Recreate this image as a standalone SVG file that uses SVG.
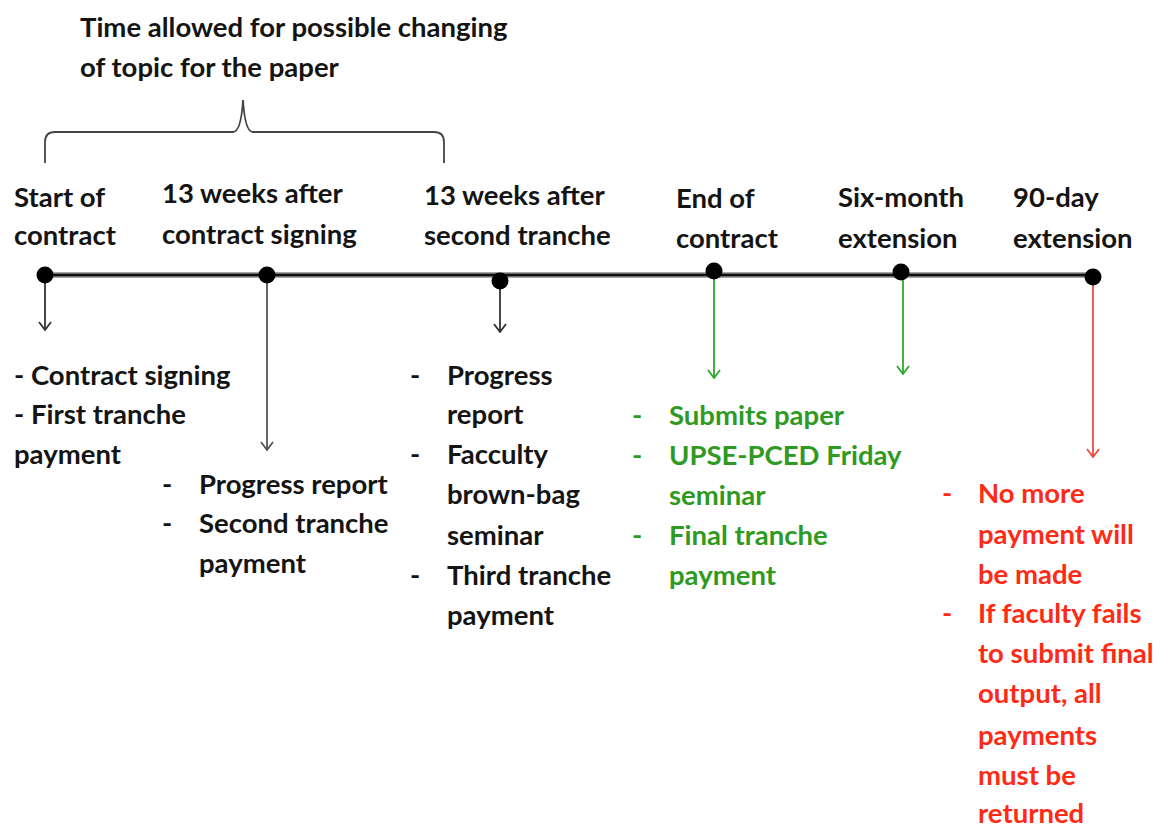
<svg xmlns="http://www.w3.org/2000/svg" width="1160" height="831" viewBox="0 0 1160 831">
  <style>
    text { font-family: Lato, "Liberation Sans", sans-serif; font-weight: bold; font-size: 27.5px; fill: #141414; }
    .g text { fill: #2f9a22; }
    .r text { fill: #ff2a14; }
    .axis-under { stroke: #8a8a8a; stroke-width: 5.5; fill: none; }
    .axis { stroke: #111; stroke-width: 2.5; fill: none; }
    .dot { fill: #000; }
    .conn { fill: none; stroke-width: 1.8; }
    .k { stroke: #333; }
    .gr { stroke: #555; }
    .gn { stroke: #2eaa2e; }
    .rd { stroke: #f04a40; }
    .brace { fill: none; stroke: #444; stroke-width: 1.8; }
  </style>
  <defs>
    <marker id="vk" viewBox="0 0 14 12" refX="7" refY="11" markerWidth="14" markerHeight="12" markerUnits="userSpaceOnUse">
      <path d="M1 3 L7 11 L13 3" fill="none" stroke="#333" stroke-width="1.8"/>
    </marker>
    <marker id="vgr" viewBox="0 0 14 12" refX="7" refY="11" markerWidth="14" markerHeight="12" markerUnits="userSpaceOnUse">
      <path d="M1 3 L7 11 L13 3" fill="none" stroke="#555" stroke-width="1.8"/>
    </marker>
    <marker id="vgn" viewBox="0 0 14 12" refX="7" refY="11" markerWidth="14" markerHeight="12" markerUnits="userSpaceOnUse">
      <path d="M1 3 L7 11 L13 3" fill="none" stroke="#2eaa2e" stroke-width="1.8"/>
    </marker>
    <marker id="vrd" viewBox="0 0 14 12" refX="7" refY="11" markerWidth="14" markerHeight="12" markerUnits="userSpaceOnUse">
      <path d="M1 3 L7 11 L13 3" fill="none" stroke="#f04a40" stroke-width="1.8"/>
    </marker>
  </defs>

  <!-- heading and brace -->
  <g id="topic-window">
    <text x="80" y="37">Time allowed for possible changing</text>
    <text x="80" y="77">of topic for the paper</text>
    <path class="brace" d="M45 163 L45 142 Q45 132 55 132 L233 132 Q241 132 243 100 Q245 132 253 132 L434 132 Q444 132 444 142 L444 163"/>
  </g>

  <!-- timeline axis -->
  <g id="axis">
    <path class="axis-under" d="M45 275 L1093 275"/>
    <path class="axis" d="M45 275 L1093 275"/>
  </g>

  <!-- connectors from milestones -->
  <g id="connectors">
    <path class="conn k" d="M45 276 L45 330" marker-end="url(#vk)"/>
    <path class="conn gr" d="M267 276 L267 450" marker-end="url(#vgr)"/>
    <path class="conn k" d="M500 281 L500 332" marker-end="url(#vk)"/>
    <path class="conn gn" d="M714 272 L714 378" marker-end="url(#vgn)"/>
    <path class="conn gn" d="M903 273 L903 374" marker-end="url(#vgn)"/>
    <path class="conn rd" d="M1093 278 L1093 457" marker-end="url(#vrd)"/>
  </g>

  <g id="start">
    <circle class="dot" cx="45" cy="275" r="8.5"/>
    <text x="14" y="207">Start of</text>
    <text x="14" y="245">contract</text>
    <text x="14" y="385">- Contract signing</text>
    <text x="14" y="424">- First tranche</text>
    <text x="14" y="464">payment</text>
  </g>

  <g id="week13">
    <circle class="dot" cx="267" cy="275" r="8.5"/>
    <text x="162" y="203">13 weeks after</text>
    <text x="162" y="244">contract signing</text>
    <text x="162" y="494">-</text>
    <text x="199" y="494">Progress report</text>
    <text x="162" y="533">-</text>
    <text x="199" y="533">Second tranche</text>
    <text x="199" y="573">payment</text>
  </g>

  <g id="week26">
    <circle class="dot" cx="500" cy="281" r="8.5"/>
    <text x="424" y="205">13 weeks after</text>
    <text x="424" y="245">second tranche</text>
    <text x="410" y="385">-</text>
    <text x="447" y="385">Progress</text>
    <text x="447" y="424">report</text>
    <text x="410" y="464">-</text>
    <text x="447" y="464">Facculty</text>
    <text x="447" y="504">brown-bag</text>
    <text x="447" y="545">seminar</text>
    <text x="410" y="585">-</text>
    <text x="447" y="585">Third tranche</text>
    <text x="447" y="625">payment</text>
  </g>

  <g id="end" class="g">
    <circle class="dot" cx="714" cy="271" r="8.5"/>
    <text x="676" y="208" style="fill:#141414">End of</text>
    <text x="676" y="248" style="fill:#141414">contract</text>
    <text x="632" y="425">-</text>
    <text x="669" y="425">Submits paper</text>
    <text x="632" y="465">-</text>
    <text x="669" y="465">UPSE-PCED Friday</text>
    <text x="669" y="505">seminar</text>
    <text x="632" y="545">-</text>
    <text x="669" y="545">Final tranche</text>
    <text x="669" y="585">payment</text>
  </g>

  <g id="six-month">
    <circle class="dot" cx="901" cy="272" r="8.5"/>
    <text x="838" y="207">Six-month</text>
    <text x="838" y="248">extension</text>
  </g>

  <g id="ninety-day" class="r">
    <circle class="dot" cx="1093" cy="277" r="8.5"/>
    <text x="1013" y="207" style="fill:#141414">90-day</text>
    <text x="1013" y="248" style="fill:#141414">extension</text>
    <text x="942" y="503">-</text>
    <text x="978" y="503">No more</text>
    <text x="978" y="544">payment will</text>
    <text x="978" y="584">be made</text>
    <text x="942" y="623">-</text>
    <text x="978" y="623">If faculty fails</text>
    <text x="978" y="663">to submit final</text>
    <text x="978" y="703">output, all</text>
    <text x="978" y="745">payments</text>
    <text x="978" y="785">must be</text>
    <text x="978" y="823">returned</text>
  </g>
</svg>
